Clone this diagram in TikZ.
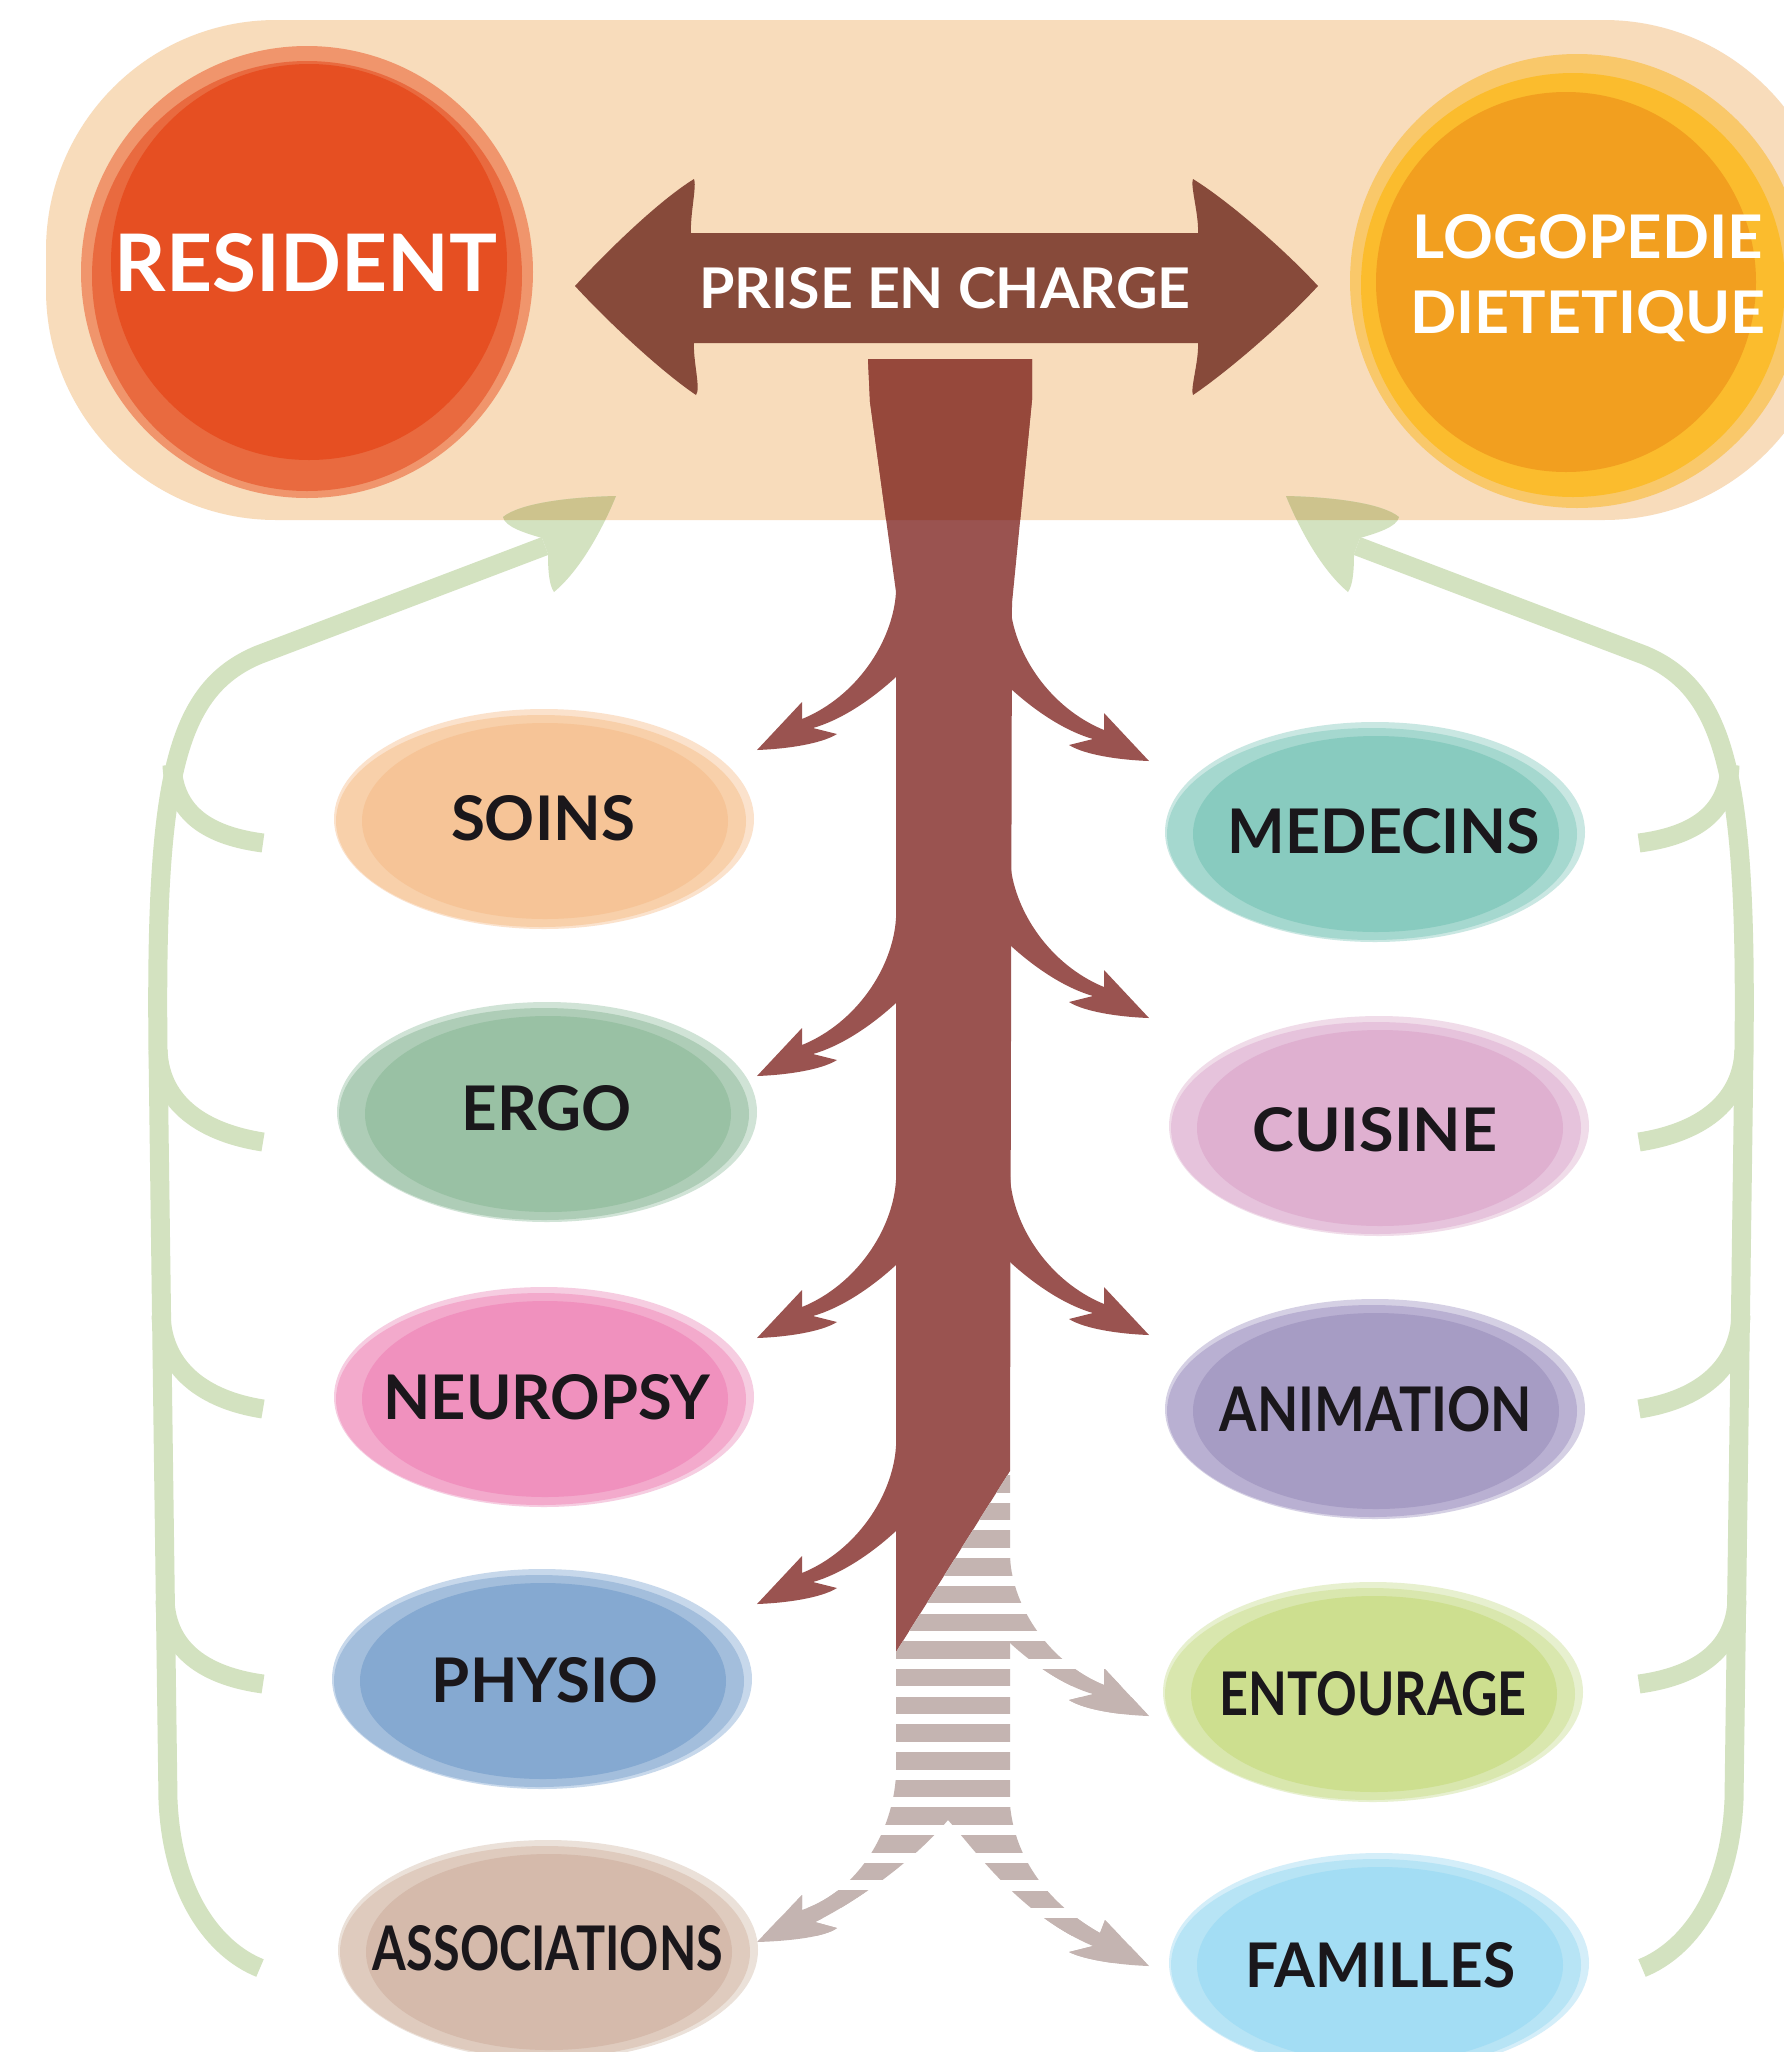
\documentclass[tikz,border=0pt]{standalone}
\usepackage{fontspec}
\setmainfont{Lato}
\usepackage{graphicx}

% couleurs
\definecolor{peach}{HTML}{F8DCBB}
\definecolor{resout}{HTML}{F0956C}
\definecolor{resmid}{HTML}{E96A3F}
\definecolor{resin}{HTML}{E64F22}
\definecolor{logoout}{HTML}{F9C86A}
\definecolor{logomid}{HTML}{FBBC2D}
\definecolor{logoin}{HTML}{F29F1F}
\definecolor{arrowc}{HTML}{874A3A}
\definecolor{trunkc}{HTML}{9A5350}
\definecolor{trunkdark}{HTML}{96483B}
\definecolor{stripec}{HTML}{C4B4B1}
\definecolor{vinec}{HTML}{D3E2C0}
\definecolor{vinedark}{HTML}{CDC38D}
\definecolor{ink}{HTML}{1A171B}
\definecolor{soinsl}{HTML}{FBE2CC}\definecolor{soinsm}{HTML}{F8D0AA}\definecolor{soinsc}{HTML}{F6C497}
\definecolor{ergol}{HTML}{D0E3D6}\definecolor{ergom}{HTML}{AECDB7}\definecolor{ergoc}{HTML}{99C1A4}
\definecolor{neurol}{HTML}{F6CDE1}\definecolor{neurom}{HTML}{F3AACC}\definecolor{neuroc}{HTML}{F091BE}
\definecolor{physiol}{HTML}{C7D8EB}\definecolor{physiom}{HTML}{A3BEDC}\definecolor{physioc}{HTML}{85A9D1}
\definecolor{assocl}{HTML}{EBE1D9}\definecolor{assocm}{HTML}{DFCBBE}\definecolor{assocc}{HTML}{D5BAAB}
\definecolor{medecl}{HTML}{C9E7E2}\definecolor{medecm}{HTML}{A5D8CF}\definecolor{medecc}{HTML}{88CBBF}
\definecolor{cuisl}{HTML}{F0DCE9}\definecolor{cuism}{HTML}{E6C3DC}\definecolor{cuisc}{HTML}{DFB0D0}
\definecolor{animl}{HTML}{D5D0E4}\definecolor{animm}{HTML}{B9B0D2}\definecolor{animc}{HTML}{A69CC4}
\definecolor{entourl}{HTML}{E7F0CF}\definecolor{entourm}{HTML}{D9E7AE}\definecolor{entourc}{HTML}{CDDF8F}
\definecolor{famill}{HTML}{D4EEF9}\definecolor{famillm}{HTML}{B7E4F5}\definecolor{famillc}{HTML}{A3DDF4}

\newlength{\unitpx}
\setlength{\unitpx}{0.5pt}
\newcommand{\fitlbl}[3]{\resizebox{#1\unitpx}{#2\unitpx}{#3}}

\newcommand{\peachpath}{(46,20) rectangle (1834,520)}
\newcommand{\trunkpath}{(868,359) -- (1032,359) -- (1032,400) -- (1012,603) -- (1010,1471) -- (896,1652) -- (896,592) -- (870,402) -- cycle}
\newcommand{\branchshape}{(0,0) .. controls (-3,50) and (-40,105) .. (-94,127) -- (-94,110) -- (-139,158) .. controls (-110,157) and (-75,152) .. (-59,142) -- (-83,136) .. controls (-55,128) and (-25,108) .. (0,85) -- (6,85) -- (6,0) -- cycle}
\newcommand{\vinehead}{(616,496) .. controls (570,497) and (520,503) .. (503,517) .. controls (505,527) and (525,533) .. (542,538) -- (548,554) .. controls (548,570) and (549,585) .. (554,592) .. controls (578,572) and (600,535) .. (616,496) -- cycle}
\newcommand{\stripes}[2]{\foreach \k in {0,...,18}{\fill[stripec] ({#1-300},{1475+27.7*\k-#2}) rectangle ({#1+300},{1492.5+27.7*\k-#2});}}
\newcommand{\bubble}[5]{%
  \fill[#3] ({#1+1},{#2-1}) ellipse [x radius=210, y radius=110];
  \fill[#4] ({#1-2},{#2+1}) ellipse [x radius=205, y radius=106];
  \fill[#5] ({#1+2},{#2+1}) ellipse [x radius=183, y radius=98];
}
\newcommand{\vineside}{%
  \draw[vine] (260,1968) .. controls (215,1950) and (172,1895) .. (168,1800) -- (158,1050) .. controls (155,780) and (175,690) .. (258,655) -- (545,546);
  \draw[vine] (172,765) .. controls (174,815) and (210,836) .. (263,843);
  \draw[vine] (158,1050) .. controls (160,1105) and (205,1133) .. (263,1142);
  \draw[vine] (161,1315) .. controls (163,1370) and (205,1400) .. (263,1409);
  \draw[vine] (165,1600) .. controls (167,1650) and (205,1676) .. (263,1684);
  \fill[vinec] \vinehead;
}

\begin{document}
\begin{tikzpicture}[x=0.5pt, y=-0.5pt,
    vine/.style={draw=vinec, line width=9.5pt},
    lbl/.style={inner sep=0pt, text=ink, font=\bfseries},
    whitelbl/.style={inner sep=0pt, text=white, font=\bfseries}]
    \useasboundingbox (0,0) rectangle (1784,2052);
    \clip (0,0) rectangle (1784,2052);
    \fill[white] (0,0) rectangle (1784,2052);

    % --- Bandeau du haut ---
    \fill[peach, rounded corners=115pt] \peachpath;

    % Resident
    \fill[resout] (307,272) circle (226);
    \fill[resmid] (307,276) circle (215);
    \fill[resin] (309,262) circle (198);
    \node[whitelbl] (resident) at (306,263) {\fitlbl{382}{58}{RESIDENT}};

    % Logopedie
    \fill[logoout] (1577,281) circle (227);
    \fill[logomid] (1573,285) circle (212);
    \fill[logoin] (1566,282) circle (190);
    \node[whitelbl, align=center, anchor=north] (logo) at (1588,214)
        {\fitlbl{350}{44}{LOGOPEDIE}\\[15pt]\fitlbl{355}{43}{DIETETIQUE}};

    % Double fleche
    \fill[arrowc] (575,286) .. controls (610,248) and (660,200) .. (694,179)
        .. controls (697,185) and (690,215) .. (691,233) -- (1198,233)
        .. controls (1199,215) and (1190,185) .. (1193,179)
        .. controls (1227,200) and (1283,248) .. (1318,286)
        .. controls (1283,324) and (1227,372) .. (1193,395)
        .. controls (1190,389) and (1199,361) .. (1198,343) -- (694,343)
        .. controls (693,361) and (701,389) .. (696,395)
        .. controls (662,372) and (610,324) .. (575,286) -- cycle;
    \node[whitelbl] (prise) at (945,288) {\fitlbl{491}{41}{PRISE EN CHARGE}};

    % --- Tronc et branches ---
    \fill[trunkc] \trunkpath;
    \foreach \y in {592,918,1180,1446}
        \fill[trunkc, shift={(896,\y)}] \branchshape;
    \foreach \y in {603,860,1177}
        \fill[trunkc, shift={(1010,\y)}, xscale=-1] \branchshape;

    % Partie hachuree (pointes pleines)
    \begin{scope}
        \clip (896,1652) -- (1010,1471) -- (1010,1805) .. controls (1015,1860) and (1050,1905) .. (1100,1933)
            -- (1105,1920) -- (1149,1966) .. controls (1120,1965) and (1085,1960) .. (1069,1952)
            -- (1093,1946) .. controls (1020,1915) and (975,1850) .. (948,1820)
            .. controls (910,1865) and (850,1905) .. (815,1922) -- (837,1928)
            .. controls (825,1937) and (790,1941) .. (757,1942) -- (802,1895) -- (802,1910)
            .. controls (860,1890) and (893,1830) .. (896,1775) -- cycle;
        \stripes{953}{0}
        \fill[stripec] (700,1890) rectangle (948,2000);
        \fill[stripec] (953,1918) rectangle (1200,2000);
    \end{scope}
    \begin{scope}[shift={(1010,1558)}, xscale=-1]
        \clip \branchshape;
        \stripes{0}{1558}
        \fill[stripec] (-300,111) rectangle (300,200);
    \end{scope}

    % --- Vrilles vertes ---
    \vineside
    \begin{scope}[shift={(1902,0)}, xscale=-1]
        \vineside
    \end{scope}

    % parties sur le bandeau
    \begin{scope}
        \clip[rounded corners=115pt] \peachpath;
        \fill[trunkdark] \trunkpath;
        \fill[vinedark] \vinehead;
        \fill[vinedark, shift={(1902,0)}, xscale=-1] \vinehead;
    \end{scope}

    % --- Bulles gauche ---
    \bubble{543}{820}{soinsl}{soinsm}{soinsc}
    \node[lbl] (soins) at (543,818) {\fitlbl{184}{45}{SOINS}};
    \bubble{546}{1113}{ergol}{ergom}{ergoc}
    \node[lbl] (ergo) at (547,1108) {\fitlbl{170}{45}{ERGO}};
    \bubble{543}{1398}{neurol}{neurom}{neuroc}
    \node[lbl] (neuropsy) at (547,1397) {\fitlbl{327}{45}{NEUROPSY}};
    \bubble{541}{1680}{physiol}{physiom}{physioc}
    \node[lbl] (physio) at (545,1680) {\fitlbl{226}{45}{PHYSIO}};
    \bubble{547}{1951}{assocl}{assocm}{assocc}
    \node[lbl] (assoc) at (548,1948) {\fitlbl{350}{45}{ASSOCIATIONS}};

    % --- Bulles droite ---
    \bubble{1374}{833}{medecl}{medecm}{medecc}
    \node[lbl] (medecins) at (1384,831) {\fitlbl{312}{45}{MEDECINS}};
    \bubble{1378}{1127}{cuisl}{cuism}{cuisc}
    \node[lbl] (cuisine) at (1375,1130) {\fitlbl{245}{44}{CUISINE}};
    \bubble{1374}{1410}{animl}{animm}{animc}
    \node[lbl] (animation) at (1376,1409) {\fitlbl{312}{45}{ANIMATION}};
    \bubble{1372}{1693}{entourl}{entourm}{entourc}
    \node[lbl] (entourage) at (1373,1694) {\fitlbl{307}{44}{ENTOURAGE}};
    \bubble{1378}{1964}{famill}{famillm}{famillc}
    \node[lbl] (familles) at (1380,1965) {\fitlbl{270}{45}{FAMILLES}};
\end{tikzpicture}
\end{document}
